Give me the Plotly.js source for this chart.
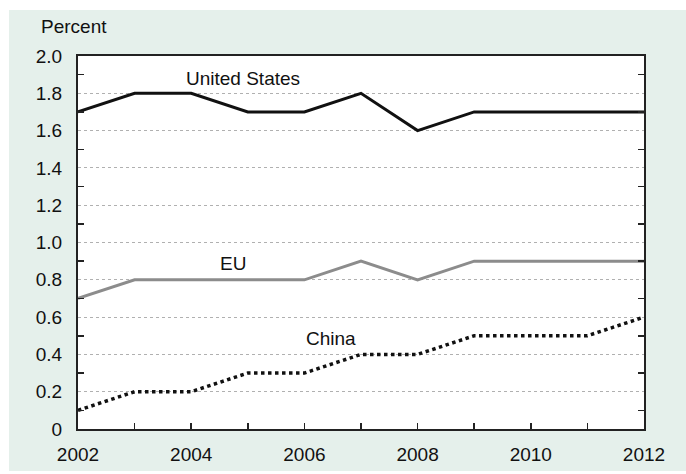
<!DOCTYPE html>
<html>
<head>
<meta charset="utf-8">
<script src="https://cdn.plot.ly/plotly-3.0.1.min.js"></script>
<style>
html,body{margin:0;padding:0;background:#ffffff;width:686px;height:474px;overflow:hidden;}
#chart{position:absolute;left:9px;top:10px;width:677px;height:461px;}
</style>
</head>
<body>
<div id="chart"></div>
<script>
const years = [2002, 2003, 2004, 2005, 2006, 2007, 2008, 2009, 2010, 2011, 2012];
const unitedStates = [1.7, 1.8, 1.8, 1.7, 1.7, 1.8, 1.6, 1.7, 1.7, 1.7, 1.7];
const eu = [0.7, 0.8, 0.8, 0.8, 0.8, 0.9, 0.8, 0.9, 0.9, 0.9, 0.9];
const china = [0.1, 0.2, 0.2, 0.3, 0.3, 0.4, 0.4, 0.5, 0.5, 0.5, 0.6];
const yTickVals = [0, 0.2, 0.4, 0.6, 0.8, 1.0, 1.2, 1.4, 1.6, 1.8, 2.0];
const yTickText = ['0', '0.2', '0.4', '0.6', '0.8', '1.0', '1.2', '1.4', '1.6', '1.8', '2.0'];
const yMarkVals = [0.1, 0.3, 0.5, 0.7, 0.9, 1.1, 1.3, 1.5, 1.7, 1.9];
const xTickVals = [2002, 2004, 2006, 2008, 2010, 2012];
const seriesLabels = ['United States', 'EU', 'China'];

const font = {family: 'Liberation Sans, Arial, sans-serif', size: 19, color: '#111111'};

const traces = [
  {x: years, y: unitedStates, type: 'scatter', mode: 'lines', name: seriesLabels[0],
   line: {color: '#111111', width: 3}},
  {x: years, y: eu, type: 'scatter', mode: 'lines', name: seriesLabels[1],
   line: {color: '#8c8c8c', width: 3}},
  {x: years, y: china, type: 'scatter', mode: 'lines', name: seriesLabels[2],
   line: {color: '#111111', width: 3.5, dash: 'dot'}},
  // invisible helper trace so the tick-mark overlay axes are drawn
  {x: years, y: china, xaxis: 'x2', yaxis: 'y2', type: 'scatter', mode: 'lines',
   line: {width: 0}, opacity: 0, hoverinfo: 'skip'}
];

const layout = {
  width: 677, height: 461,
  margin: {l: 69, r: 42, t: 46, b: 42},
  paper_bgcolor: '#e5f0eb',
  plot_bgcolor: '#ffffff',
  showlegend: false,
  font: font,
  xaxis: {
    range: [2002, 2012],
    tickmode: 'array', tickvals: xTickVals,
    ticks: '',
    showgrid: false, zeroline: false,
    showline: true, linecolor: '#222', linewidth: 2, mirror: true,
    tickfont: font, ticklabelstandoff: 7
  },
  yaxis: {
    range: [0, 2.0],
    tickmode: 'array', tickvals: yTickVals, ticktext: yTickText,
    ticks: '',
    showgrid: true, gridcolor: '#b0b0b0', gridwidth: 1, griddash: '3px,3px',
    zeroline: false,
    showline: true, linecolor: '#222', linewidth: 2, mirror: true,
    tickfont: font, ticklabelstandoff: 10
  },
  xaxis2: {
    overlaying: 'x', anchor: 'y2', side: 'bottom',
    range: [2002, 2012],
    tickmode: 'array', tickvals: years,
    ticks: 'inside', ticklen: 6, tickwidth: 1.5, tickcolor: '#222',
    showticklabels: false, showgrid: false, zeroline: false, showline: false
  },
  yaxis2: {
    overlaying: 'y', anchor: 'x2', side: 'left',
    range: [0, 2.0],
    tickmode: 'array', tickvals: yMarkVals,
    ticks: 'inside', ticklen: 6, tickwidth: 1.5, tickcolor: '#222', mirror: 'ticks',
    showticklabels: false, showgrid: false, zeroline: false, showline: false
  },
  annotations: [
    {xref: 'x', yref: 'y', x: 2004.92, y: 1.877, text: seriesLabels[0], showarrow: false, font: font},
    {xref: 'x', yref: 'y', x: 2004.74, y: 0.885, text: seriesLabels[1], showarrow: false, font: font},
    {xref: 'x', yref: 'y', x: 2006.47, y: 0.485, text: seriesLabels[2], showarrow: false, font: font},
    {xref: 'paper', yref: 'paper', x: -0.069, y: 1.08, xanchor: 'left', yanchor: 'middle',
     text: 'Percent', showarrow: false, font: font}
  ]
};

Plotly.newPlot('chart', traces, layout, {displayModeBar: false, staticPlot: true});
</script>
</body>
</html>
